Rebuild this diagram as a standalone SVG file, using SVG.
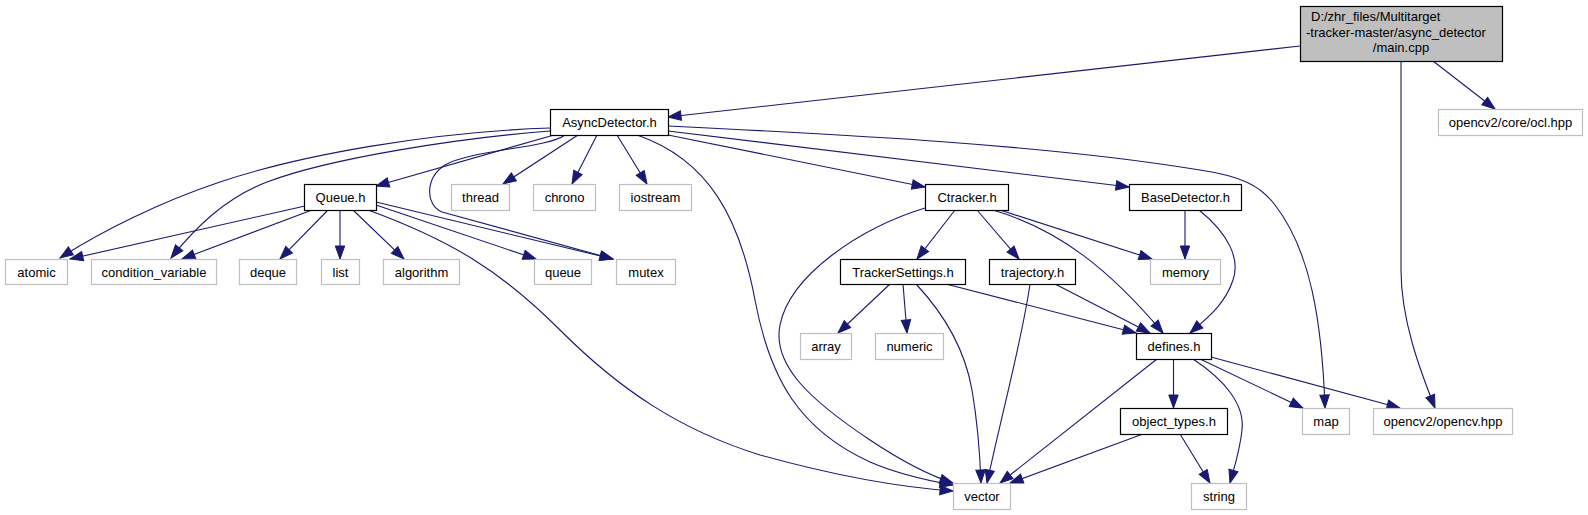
<svg xmlns="http://www.w3.org/2000/svg" width="1588" height="515" viewBox="0 0 1588 515">
<style>
.e{fill:none;stroke:#191970;stroke-width:1.1;marker-end:url(#arr)}
.n rect{fill:#fff;stroke:#000;stroke-width:1.2}
.g rect{fill:#fff;stroke:#bfbfbf;stroke-width:1.2}
.m rect{fill:#bfbfbf;stroke:#000;stroke-width:1.2}
text{font-family:"Liberation Sans",Arial,sans-serif;font-size:13px;fill:#000;text-anchor:middle}
text.l{text-anchor:start}
</style>
<defs>
<marker id="arr" markerWidth="14" markerHeight="10" refX="13" refY="4.7" orient="auto" markerUnits="userSpaceOnUse" overflow="visible">
<path d="M0,0 L13,4.7 L0,9.4 z" fill="#191970" stroke="#191970" stroke-width="1"/>
</marker>
</defs>
<rect width="1588" height="515" fill="#fff"/>
<g id="edges">
<path class="e" d="M1300,46 L668,117"/>
<path class="e" d="M1433,61 L1495,109"/>
<path class="e" d="M1401,61 L1401,270 C1401,320 1420,370 1435,408"/>
<path class="e" d="M550,128 C430,132 300,155 220,182 C160,202 100,232 60,258"/>
<path class="e" d="M550,131 C460,138 330,158 267,182 C225,198 195,228 171,258"/>
<path class="e" d="M554,135 L376,186"/>
<path class="e" d="M565,135 C548,148 470,150 445,165 C425,178 425,205 442,212 L613,259"/>
<path class="e" d="M578,135 L503,184"/>
<path class="e" d="M597,135 L572,184"/>
<path class="e" d="M617,135 L647,184"/>
<path class="e" d="M637,135 C710,160 740,220 755,300 C770,380 800,430 870,462 C900,475 930,481 953,485"/>
<path class="e" d="M668,135 L925,187"/>
<path class="e" d="M668,131 L1129,187"/>
<path class="e" d="M668,126 C850,135 1050,145 1200,170 C1240,176 1260,185 1275,205 C1310,250 1322,320 1325,408"/>
<path class="e" d="M305,206 L70,259"/>
<path class="e" d="M312,210 L182,259"/>
<path class="e" d="M328,210 L280,259"/>
<path class="e" d="M340,210 L340,259"/>
<path class="e" d="M353,210 L404,259"/>
<path class="e" d="M376,205 L536,259"/>
<path class="e" d="M376,202 L613,259"/>
<path class="e" d="M368,210 C450,240 500,270 560,330 C620,390 680,430 760,455 C850,480 910,488 953,491"/>
<path class="e" d="M955,210 L917,259"/>
<path class="e" d="M977,210 L1019,259"/>
<path class="e" d="M1000,210 L1152,259"/>
<path class="e" d="M993,210 C1060,230 1110,270 1163,333"/>
<path class="e" d="M925,208 C860,228 790,275 780,325 C772,365 810,400 870,440 C900,460 928,475 953,483"/>
<path class="e" d="M1185,210 L1185,259"/>
<path class="e" d="M1199,210 C1230,235 1240,260 1233,280 C1225,305 1205,320 1190,333"/>
<path class="e" d="M890,284 L838,333"/>
<path class="e" d="M903,284 L907,333"/>
<path class="e" d="M916,284 C945,315 965,350 972,390 C978,425 980,455 981,483"/>
<path class="e" d="M946,284 L1136,333"/>
<path class="e" d="M1055,284 L1150,333"/>
<path class="e" d="M1030,284 C1022,340 1005,400 987,483"/>
<path class="e" d="M1173.5,359 L1173.5,408"/>
<path class="e" d="M1157,359 L1000,483"/>
<path class="e" d="M1193,359 C1225,380 1245,405 1242,430 C1240,450 1235,465 1230,483"/>
<path class="e" d="M1200,359 L1303,408"/>
<path class="e" d="M1211,357 L1400,408"/>
<path class="e" d="M1143,434 L1010,483"/>
<path class="e" d="M1180,434 L1210,483"/>
</g>
<g id="node-main" class="m"><rect x="1300.5" y="6.5" width="202" height="55"/>
<text class="l" x="1311" y="21">D:/zhr_files/Multitarget</text>
<text class="l" x="1306" y="36.5">-tracker-master/async_detector</text>
<text x="1401" y="52">/main.cpp</text></g>
<g id="node-asyncdetector" class="n"><rect x="550.5" y="109.5" width="118" height="26"/><text x="609.5" y="126.5">AsyncDetector.h</text></g>
<g id="node-ocl" class="g"><rect x="1438.5" y="109.5" width="144" height="26"/><text x="1510.5" y="126.5">opencv2/core/ocl.hpp</text></g>
<g id="node-queue-h" class="n"><rect x="304.5" y="184.5" width="72" height="26"/><text x="340.5" y="201.5">Queue.h</text></g>
<g id="node-thread" class="g"><rect x="451.5" y="184.5" width="58" height="26"/><text x="480.5" y="201.5">thread</text></g>
<g id="node-chrono" class="g"><rect x="533.5" y="184.5" width="62" height="26"/><text x="564.5" y="201.5">chrono</text></g>
<g id="node-iostream" class="g"><rect x="619.5" y="184.5" width="72" height="26"/><text x="655.5" y="201.5">iostream</text></g>
<g id="node-ctracker" class="n"><rect x="925.5" y="184.5" width="83" height="26"/><text x="967" y="201.5">Ctracker.h</text></g>
<g id="node-basedetector" class="n"><rect x="1129.5" y="184.5" width="112" height="26"/><text x="1185.5" y="201.5">BaseDetector.h</text></g>
<g id="node-atomic" class="g"><rect x="5.5" y="259.5" width="62" height="25"/><text x="36.5" y="276.5">atomic</text></g>
<g id="node-condvar" class="g"><rect x="91.5" y="259.5" width="125" height="25"/><text x="154" y="276.5">condition_variable</text></g>
<g id="node-deque" class="g"><rect x="239.5" y="259.5" width="57" height="25"/><text x="268" y="276.5">deque</text></g>
<g id="node-list" class="g"><rect x="321.5" y="259.5" width="38" height="25"/><text x="340.5" y="276.5">list</text></g>
<g id="node-algorithm" class="g"><rect x="383.5" y="259.5" width="76" height="25"/><text x="421.5" y="276.5">algorithm</text></g>
<g id="node-queue" class="g"><rect x="534.5" y="259.5" width="57" height="25"/><text x="563" y="276.5">queue</text></g>
<g id="node-mutex" class="g"><rect x="616.5" y="259.5" width="59" height="25"/><text x="646" y="276.5">mutex</text></g>
<g id="node-trackersettings" class="n"><rect x="840.5" y="259.5" width="125" height="25"/><text x="903" y="276.5">TrackerSettings.h</text></g>
<g id="node-trajectory" class="n"><rect x="989.5" y="259.5" width="86" height="25"/><text x="1032.5" y="276.5">trajectory.h</text></g>
<g id="node-memory" class="g"><rect x="1150.5" y="259.5" width="70" height="25"/><text x="1185.5" y="276.5">memory</text></g>
<g id="node-array" class="g"><rect x="800.5" y="333.5" width="51" height="26"/><text x="826" y="350.5">array</text></g>
<g id="node-numeric" class="g"><rect x="875.5" y="333.5" width="68" height="26"/><text x="909.5" y="350.5">numeric</text></g>
<g id="node-defines" class="n"><rect x="1136.5" y="333.5" width="75" height="26"/><text x="1174" y="350.5">defines.h</text></g>
<g id="node-objecttypes" class="n"><rect x="1120.5" y="408.5" width="107" height="26"/><text x="1174" y="425.5">object_types.h</text></g>
<g id="node-map" class="g"><rect x="1302.5" y="408.5" width="47" height="26"/><text x="1326" y="425.5">map</text></g>
<g id="node-opencv" class="g"><rect x="1373.5" y="408.5" width="139" height="26"/><text x="1443" y="425.5">opencv2/opencv.hpp</text></g>
<g id="node-vector" class="g"><rect x="953.5" y="483.5" width="57" height="26"/><text x="982" y="500.5">vector</text></g>
<g id="node-string" class="g"><rect x="1191.5" y="483.5" width="55" height="26"/><text x="1219" y="500.5">string</text></g>
</svg>
